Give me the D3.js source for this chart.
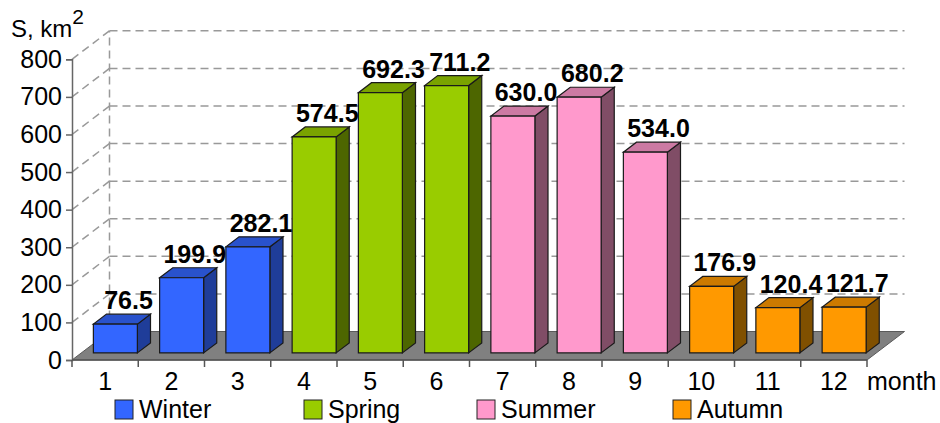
<!DOCTYPE html>
<html>
<head>
<meta charset="utf-8">
<script src="https://cdn.jsdelivr.net/npm/d3@7"></script>
<style>
  body { margin: 0; background: #fff; }
  text { font-family: "Liberation Sans", Arial, sans-serif; }
</style>
</head>
<body>
<div id="chart"></div>
<script>
// data
var months = ["1", "2", "3", "4", "5", "6", "7", "8", "9", "10", "11", "12"];
var areas = [76.5, 199.9, 282.1, 574.5, 692.3, 711.2, 630.0, 680.2, 534.0, 176.9, 120.4, 121.7];
var seasonOf = ["Winter", "Winter", "Winter", "Spring", "Spring", "Spring",
                "Summer", "Summer", "Summer", "Autumn", "Autumn", "Autumn"];
var seasons = ["Winter", "Spring", "Summer", "Autumn"];
var yTicks = [0, 100, 200, 300, 400, 500, 600, 700, 800];

// front / top / side shades for each season
var frontColor = {Winter: "#3366ff", Spring: "#99cc00", Summer: "#ff99cc", Autumn: "#ff9900"};
var topColor   = {Winter: "#2952cc", Spring: "#7aa300", Summer: "#cc7aa3", Autumn: "#cc7a00"};
var sideColor  = {Winter: "#1f3d99", Spring: "#4d6600", Summer: "#804d66", Autumn: "#805000"};

var width = 940, height = 423;

var svg = d3.select("#chart").append("svg")
    .attr("width", width)
    .attr("height", height);

var x = d3.scaleBand().domain(months).range([72, 867]);
var y = d3.scaleLinear().domain([0, 800]).range([360, 59.3]);

// oblique depth offset
var DX = 37.5, DY = 28.5;
function proj(px, py, z) { return [px + z * DX, py - z * DY]; }

var gridColor = "#999";
var dash = "8,5";

// back wall gridlines
var grid = svg.append("g");
grid.selectAll(".back").data(yTicks.slice(1)).enter().append("line")
    .attr("x1", proj(72, 0, 1)[0])
    .attr("x2", proj(867, 0, 1)[0])
    .attr("y1", function (d) { return proj(0, y(d), 1)[1]; })
    .attr("y2", function (d) { return proj(0, y(d), 1)[1]; })
    .attr("stroke", gridColor).attr("stroke-width", 1.5).attr("stroke-dasharray", dash);

// side wall diagonals
grid.selectAll(".side").data(yTicks.slice(1)).enter().append("line")
    .attr("x1", 72)
    .attr("y1", function (d) { return y(d); })
    .attr("x2", proj(72, 0, 1)[0])
    .attr("y2", function (d) { return proj(0, y(d), 1)[1]; })
    .attr("stroke", gridColor).attr("stroke-width", 1.5).attr("stroke-dasharray", dash);

// back-left corner
grid.append("line")
    .attr("x1", proj(72, 0, 1)[0]).attr("x2", proj(72, 0, 1)[0])
    .attr("y1", proj(0, y(0), 1)[1]).attr("y2", proj(0, y(800), 1)[1])
    .attr("stroke", gridColor).attr("stroke-width", 1.5).attr("stroke-dasharray", dash);

// floor
var f0 = [72, y(0)], f1 = [867, y(0)], f2 = proj(867, y(0), 1), f3 = proj(72, y(0), 1);
svg.append("path")
    .attr("d", "M" + [f0, f1, f2, f3].map(function (p) { return p.join(","); }).join("L") + "Z")
    .attr("fill", "#808080")
    .attr("stroke", "#5a5a5a")
    .attr("stroke-width", 1);

// bars
var z0 = 0.25, z1 = 0.6, barW = 44, barOff = 12;
var bars = svg.append("g").selectAll("g").data(areas).enter().append("g");

function pts(list) { return list.map(function (p) { return p.join(","); }).join(" "); }

bars.each(function (d, i) {
    var g = d3.select(this);
    var s = seasonOf[i];
    var left = x(months[i]) + barOff;
    var right = left + barW;
    var a = proj(left, y(0), z0), b = proj(right, y(0), z0);
    var c = proj(right, y(d), z0), e = proj(left, y(d), z0);
    var cb = proj(right, y(d), z1), eb = proj(left, y(d), z1), bb = proj(right, y(0), z1);
    g.append("polygon").attr("points", pts([b, bb, cb, c]))
        .attr("fill", sideColor[s]).attr("stroke", "#1a1a1a").attr("stroke-width", 1.2);
    g.append("polygon").attr("points", pts([e, c, cb, eb]))
        .attr("fill", topColor[s]).attr("stroke", "#1a1a1a").attr("stroke-width", 1.2);
    g.append("polygon").attr("points", pts([a, b, c, e]))
        .attr("fill", frontColor[s]).attr("stroke", "#1a1a1a").attr("stroke-width", 1.2);
});

// value labels
svg.append("g").selectAll("text").data(areas).enter().append("text")
    .attr("x", function (d, i) { return proj(x(months[i]) + barOff + barW / 2, 0, z1)[0]; })
    .attr("y", function (d) { return proj(0, y(d), z1)[1] - 5; })
    .attr("text-anchor", "middle")
    .attr("font-size", 25)
    .attr("font-weight", "bold")
    .attr("fill", "#000")
    .text(function (d) { return d3.format(".1f")(d); });

// y axis
var yAxis = d3.axisLeft(y).tickValues(yTicks).tickSize(6).tickPadding(4);
var gy = svg.append("g").attr("transform", "translate(72,0)").call(yAxis);
gy.select(".domain").attr("stroke", "#666").attr("stroke-width", 1.5);
gy.selectAll(".tick line").attr("stroke", "#666").attr("stroke-width", 1.5);
gy.selectAll(".tick text")
    .attr("font-size", 25)
    .attr("font-family", "'Liberation Sans', Arial, sans-serif")
    .attr("fill", "#000");

// x axis: ticks at category boundaries, labels centered
var gx = svg.append("g");
gx.append("line").attr("x1", 72).attr("x2", 867).attr("y1", y(0)).attr("y2", y(0))
    .attr("stroke", "#555").attr("stroke-width", 1.5);
gx.selectAll(".xt").data(months.concat(["end"])).enter().append("line")
    .attr("x1", function (d, i) { return 72 + i * x.bandwidth(); })
    .attr("x2", function (d, i) { return 72 + i * x.bandwidth(); })
    .attr("y1", y(0)).attr("y2", y(0) + 7)
    .attr("stroke", "#555").attr("stroke-width", 1.5);
gx.selectAll(".xl").data(months).enter().append("text")
    .attr("x", function (d) { return x(d) + x.bandwidth() / 2; })
    .attr("y", 390)
    .attr("text-anchor", "middle")
    .attr("font-size", 25)
    .attr("fill", "#000")
    .text(function (d) { return d; });

svg.append("text").attr("x", 867).attr("y", 390)
    .attr("font-size", 25).attr("fill", "#000").text("month");

// y axis title
var yt = svg.append("text").attr("x", 11).attr("y", 37).attr("font-size", 24).attr("fill", "#000");
yt.append("tspan").text("S, km");
yt.append("tspan").attr("dy", -13).attr("font-size", 21).text("2");

// legend
var legendX = [115, 304, 477, 673];
var leg = svg.append("g").selectAll("g").data(seasons).enter().append("g")
    .attr("transform", function (d, i) { return "translate(" + legendX[i] + ",400)"; });
leg.append("rect").attr("width", 18).attr("height", 19)
    .attr("fill", function (d) { return frontColor[d]; })
    .attr("stroke", "#222").attr("stroke-width", 1);
leg.append("text").attr("x", 24).attr("y", 18)
    .attr("font-size", 25).attr("fill", "#000")
    .text(function (d) { return d; });
</script>
</body>
</html>
